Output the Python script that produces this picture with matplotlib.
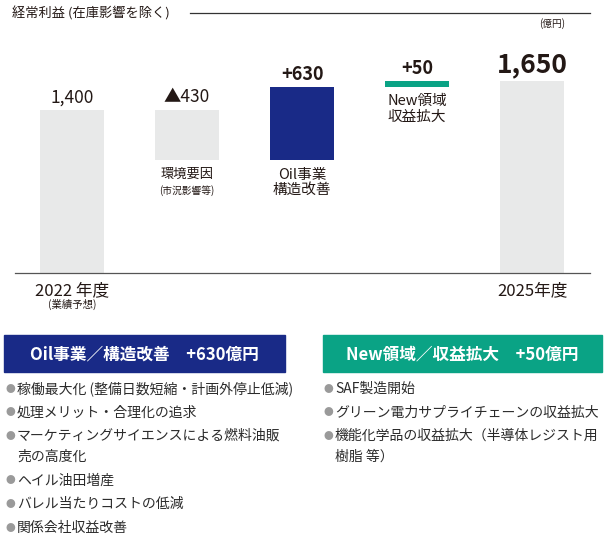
import numpy as np
import matplotlib.pyplot as plt
from matplotlib.patches import Rectangle
from matplotlib.lines import Line2D

plt.rcParams['font.family'] = ['Noto Sans CJK JP', 'DejaVu Sans']

# データ（億円）
kubun = ['2022年度', '環境要因', 'Oil事業構造改善', 'New領域収益拡大', '2025年度']
henka = [1400, -430, 630, 50, 1650]
shurui = ['total', 'step', 'step', 'step', 'total']
value_labels = ['1,400', '▲430', '+630', '+50', '1,650']
sub_labels = [None, ('環境要因', '(市況影響等)'), ('Oil事業', '構造改善'),
              ('New領域', '収益拡大'), None]
x_labels = [('2022 年度', '(業績予想)'), None, None, None, ('2025年度', None)]

oil_title = 'Oil事業／構造改善　+630億円'
oil_items = ['稼働最大化 (整備日数短縮・計画外停止低減)',
             '処理メリット・合理化の追求',
             'マーケティングサイエンスによる燃料油販\n売の高度化',
             'ヘイル油田増産',
             'バレル当たりコストの低減',
             '関係会社収益改善']
new_title = 'New領域／収益拡大　+50億円'
new_items = ['SAF製造開始',
             'グリーン電力サプライチェーンの収益拡大',
             '機能化学品の収益拡大（半導体レジスト用\n樹脂 等）']

GRAY = '#e8e9e9'
BLUE = '#192a87'
TEAL = '#0aa385'
INK = '#231815'
bar_colors = [GRAY, GRAY, BLUE, TEAL, GRAY]

W, H = 606, 543
fig = plt.figure(figsize=(W / 100, H / 100), dpi=100)


def fx(px):
    return px / W


def fy(py):
    return 1 - py / H


# 滝グラフのベース計算
bottoms, heights = [], []
run = 0
for v, s in zip(henka, shurui):
    if s == 'total':
        bottoms.append(0)
        heights.append(v)
        run = v
    else:
        if v < 0:
            bottoms.append(run + v)
            heights.append(-v)
        else:
            bottoms.append(run)
            heights.append(v)
        run += v
bottoms = np.array(bottoms)
heights = np.array(heights)
tops = bottoms + heights

ax = fig.add_axes([fx(15), fy(273), fx(590) - fx(15), fy(40) - fy(273)])
x = np.arange(len(kubun))
ax.bar(x, heights, bottom=bottoms, width=0.557, color=bar_colors, zorder=2)
ax.set_xlim(-0.4957, 4.504)
ax.set_ylim(0, 2001)
for s in ['top', 'right', 'left']:
    ax.spines[s].set_visible(False)
ax.spines['bottom'].set_color('#555555')
ax.spines['bottom'].set_linewidth(0.9)
ax.set_xticks([])
ax.set_yticks([])

for i, lab in enumerate(value_labels):
    if i == 4:
        fs, fw, off = 19, 'bold', 6
    elif i in (2, 3):
        fs, fw, off = 13, 'bold', 5
    else:
        fs, fw, off = 12.5, 'normal', 5.5
    ax.annotate(lab, xy=(i, tops[i]), xytext=(0, off), textcoords='offset points',
                ha='center', va='baseline', fontsize=fs, fontweight=fw, color=INK)

for i, sl in enumerate(sub_labels):
    if sl is None:
        continue
    l1, l2 = sl
    small = l2.startswith('(')
    fs = 9.5 if small else 10.5
    ax.annotate(l1, xy=(i, bottoms[i]), xytext=(0, -10.5), textcoords='offset points',
                ha='center', va='center', fontsize=fs, color=INK)
    ax.annotate(l2, xy=(i, bottoms[i]), xytext=(0, -22 if small else -21.5),
                textcoords='offset points', ha='center', va='center',
                fontsize=7 if small else fs, color=INK)

for i, xl in enumerate(x_labels):
    if xl is None:
        continue
    ax.annotate(xl[0], xy=(i, 0), xytext=(0, -13), textcoords='offset points',
                ha='center', va='center', fontsize=12, color=INK)
    if xl[1]:
        ax.annotate(xl[1], xy=(i, 0), xytext=(0, -22.5), textcoords='offset points',
                    ha='center', va='center', fontsize=7.5, color=INK)

# タイトルと線
fig.text(fx(12), fy(13), '経常利益 (在庫影響を除く)', ha='left', va='center',
         fontsize=9.5, color=INK)
fig.add_artist(Line2D([fx(190), fx(590)], [fy(13), fy(13)], color='#333333',
                      lw=0.9, transform=fig.transFigure))
fig.text(fx(565), fy(24), '(億円)', ha='right', va='center', fontsize=7, color=INK)

# 下段の説明ボックス
def panel(x0, x1, title, color, items, bx, tx):
    fig.add_artist(Rectangle((fx(x0), fy(372)), fx(x1) - fx(x0), fy(335) - fy(372),
                             color=color, transform=fig.transFigure))
    fig.text(fx((x0 + x1) / 2), fy(354), title, ha='center', va='center',
             fontsize=12, fontweight='bold', color='white')
    y = 389
    for it in items:
        fig.text(fx(bx), fy(y), '●', ha='center', va='center', fontsize=7,
                 color='#9a9a9a')
        lines = it.split('\n')
        for k, ln in enumerate(lines):
            fig.text(fx(tx), fy(y + 21 * k), ln, ha='left', va='center',
                     fontsize=10, color='#2b2b2b')
        y += 21 * (len(lines) - 1) + 23.5


panel(4, 285, oil_title, BLUE, oil_items, 10, 17)
panel(323, 602, new_title, TEAL, new_items, 328, 335)

fig.savefig('out.png', dpi=100)
